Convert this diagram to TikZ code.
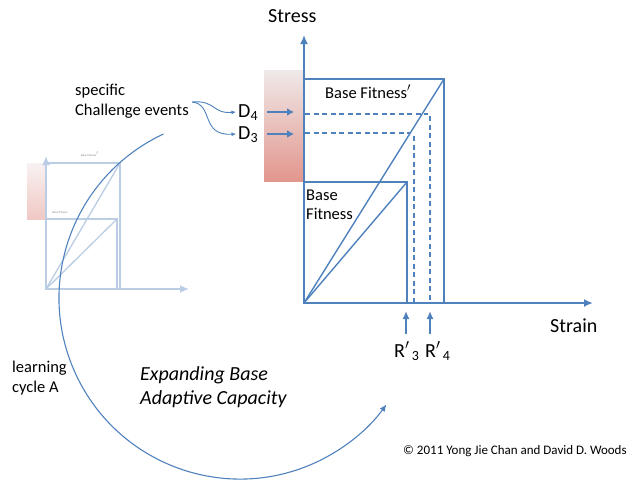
\documentclass[tikz,border=0pt]{standalone}
\usepackage{fontspec}
\setmainfont{Carlito}
\usetikzlibrary{arrows.meta}
\definecolor{lineblue}{RGB}{79,129,189}
\definecolor{fadeblue}{RGB}{186,205,229}
\definecolor{salmon}{RGB}{226,150,141}
\definecolor{midpink}{RGB}{232,184,180}
\definecolor{palepink}{RGB}{239,233,233}
\definecolor{fadepinktop}{RGB}{248,242,242}
\definecolor{fadepinkbot}{RGB}{240,200,196}
\begin{document}
\begin{tikzpicture}[x=1pt,y=-1pt,
  mainline/.style={lineblue, line width=2pt},
  thinline/.style={lineblue, line width=1.4pt},
  dashline/.style={lineblue, line width=1.3pt, dash pattern=on 5pt off 3.5pt},
  fadeline/.style={fadeblue, line width=2pt},
  axisarrow/.style={-{Latex[length=9pt,width=8pt]}},
  darrow/.style={lineblue, line width=2.2pt, -{Latex[length=7pt,width=8pt]}},
  rarrow/.style={lineblue, line width=1.5pt, -{Latex[length=8pt,width=7pt]}},
  smallarrow/.style={lineblue, line width=0.9pt, -{Latex[length=4.5pt,width=4pt]}},
  txt/.style={inner sep=0pt, anchor=base west, font=\fontsize{16.5}{19}\selectfont},
  bigtxt/.style={inner sep=0pt, anchor=base west, font=\fontsize{20}{24}\selectfont},
  tinytxt/.style={inner sep=0pt, font=\fontsize{3}{3}\selectfont, text=gray}
]
\useasboundingbox (0,0) rectangle (628,480);

% ---------- faded small diagram (left) ----------
\shade[top color=fadepinktop, bottom color=fadepinkbot] (27,163) rectangle (46,219);
\coordinate (sO) at (46,289);
\coordinate (sytip) at (46,156);
\coordinate (sxtip) at (189,289);
\coordinate (sA) at (120,163);
\coordinate (sB) at (117,219);
\draw[fadeline] (46,163) rectangle (120,289);
\draw[fadeline] (46,219) rectangle (117,289);
\draw[fadeblue, line width=1.3pt] (sO) -- (sA);
\draw[fadeblue, line width=1.3pt] (sO) -- (sB);
\draw[fadeline, axisarrow] (sO) -- (sytip);
\draw[fadeline, axisarrow] (sO) -- (sxtip);
\node[tinytxt] (sl1) at (90,154) {Base Fitness$'$};
\node[tinytxt] (sl2) at (60,212) {Base Fitness};

% ---------- gradient band ----------
\shade[top color=palepink, middle color=midpink, bottom color=salmon] (264,70) rectangle (304,181);

% ---------- main diagram ----------
\coordinate (O) at (304,303);
\coordinate (ytip) at (304,35);
\coordinate (xtip) at (593,303);
\coordinate (P) at (444,79);
\coordinate (Q) at (407,182);

\draw[mainline] (304,79) rectangle (444,303);
\draw[mainline] (304,182) rectangle (407,303);
\draw[thinline] (O) -- (P);
\draw[thinline] (O) -- (Q);

\draw[mainline, axisarrow] (O) -- (ytip);
\draw[mainline, axisarrow] (O) -- (xtip);

% dashed guide lines
\coordinate (d4a) at (305,114);
\coordinate (d4b) at (428,114);
\coordinate (d4c) at (430,116);
\coordinate (d4d) at (430,303);
\coordinate (d3a) at (305,133);
\coordinate (d3b) at (410,133);
\coordinate (d3c) at (414,136);
\coordinate (d3d) at (414,303);
\draw[dashline] (d4a) -- (d4b);
\draw[dashline] (d4c) -- (d4d);
\draw[dashline] (d3a) -- (d3b);
\draw[dashline] (d3c) -- (d3d);

% D labels and arrows
\node[bigtxt] (D4) at (238,117) {D\textsubscript{4}};
\node[bigtxt] (D3) at (238,139) {D\textsubscript{3}};
\coordinate (D4s) at (267,112);
\coordinate (D4e) at (294,112);
\coordinate (D3s) at (267,134);
\coordinate (D3e) at (294,134);
\draw[darrow] (D4s) -- (D4e);
\draw[darrow] (D3s) -- (D3e);

% challenge events
\node[txt] (spec) at (75,95) {specific};
\node[txt] (chal) at (75,115) {Challenge events};
\coordinate (cs) at (192,102);
\coordinate (D4in) at (236,112);
\coordinate (D3in) at (236,134);
\draw[smallarrow] (cs) .. controls (216,100) and (212,114) .. (D4in);
\draw[smallarrow] (cs) .. controls (214,104) and (200,136) .. (D3in);

% R' arrows
\coordinate (r3s) at (406,334);
\coordinate (r3e) at (406,311);
\coordinate (r4s) at (430,334);
\coordinate (r4e) at (430,311);
\draw[rarrow] (r3s) -- (r3e);
\draw[rarrow] (r4s) -- (r4e);
\node[bigtxt] (R3) at (394,357) {R$'$\textsubscript{\,3}};
\node[bigtxt] (R4) at (425,357) {R$'$\textsubscript{\,4}};

% axis labels and box labels
\node[bigtxt] (stress) at (268,22) {Stress};
\node[bigtxt] (strain) at (550,332) {Strain};
\node[txt] (bfp) at (325,98) {Base Fitness$'$};
\node[txt] (bf1) at (306,200) {Base};
\node[txt] (bf2) at (306,219) {Fitness};

% learning cycle arc
\coordinate (arcstart) at (163.5,134);
\draw[lineblue, line width=1.1pt, -{Latex[length=7pt,width=6pt]}]
  (arcstart) arc[start angle=245, end angle=36, radius=181];

\node[txt] (lc1) at (12,372) {learning};
\node[txt] (lc2) at (12,392) {cycle A};
\node[bigtxt, font=\fontsize{20}{24}\selectfont\itshape] (eb1) at (140,380) {Expanding Base};
\node[bigtxt, font=\fontsize{20}{24}\selectfont\itshape] (eb2) at (140,404) {Adaptive Capacity};

\node[inner sep=0pt, anchor=base west, font=\fontsize{13}{15}\selectfont] (copy) at (403,454) {© 2011 Yong Jie Chan and David D. Woods};
\end{tikzpicture}
\end{document}
